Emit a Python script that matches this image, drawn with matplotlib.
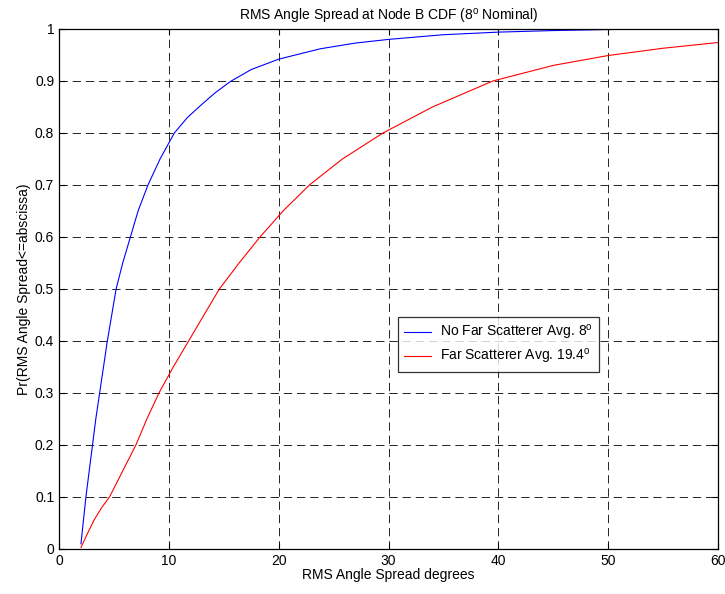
import numpy as np
import matplotlib
matplotlib.use("Agg")
import matplotlib.pyplot as plt

# values
blue_x = [2.0, 2.2, 2.45, 2.75, 3.05, 3.35, 3.7, 4.05, 4.4, 4.8, 5.2, 5.8, 6.5, 7.2, 8.1,
          9.2, 10.5, 11.7, 13.0, 14.2, 15.6, 17.5, 20.0, 23.8, 27.0, 30.0, 35.0, 40.0,
          45.0, 50.0, 56.5]
blue_y = [0.01, 0.05, 0.10, 0.15, 0.20, 0.25, 0.30, 0.35, 0.40, 0.45, 0.50, 0.55, 0.60, 0.65,
          0.70, 0.75, 0.80, 0.83, 0.855, 0.877, 0.899, 0.922, 0.942, 0.962, 0.973, 0.980,
          0.989, 0.994, 0.997, 0.999, 1.0]

red_x = [2.0, 2.6, 3.2, 3.9, 4.6, 5.8, 7.0, 8.0, 9.1, 10.4, 11.8, 13.2, 14.6, 16.4, 18.3,
         20.4, 22.8, 25.8, 29.5, 34.0, 39.5, 45.0, 50.0, 55.0, 60.0]
red_y = [0.003, 0.03, 0.056, 0.08, 0.10, 0.15, 0.20, 0.25, 0.30, 0.35, 0.40, 0.45, 0.50, 0.55,
         0.60, 0.65, 0.70, 0.75, 0.80, 0.85, 0.90, 0.93, 0.949, 0.963, 0.974]

labels = ["No Far Scatterer Avg. 8$^{\\rm o}$", "Far Scatterer Avg. 19.4$^{\\rm o}$"]
title = "RMS Angle Spread at Node B CDF (8$^{\\rm o}$ Nominal)"

plt.rcParams['font.family'] = ['Liberation Sans', 'DejaVu Sans']
plt.rcParams['mathtext.fontset'] = 'custom'
plt.rcParams['mathtext.rm'] = 'Liberation Sans'
plt.rcParams['lines.scale_dashes'] = False

fig = plt.figure(figsize=(7.25, 5.94), dpi=100)
ax = fig.add_axes([59 / 725, 45 / 594, 659 / 725, 520 / 594])

ax.plot(blue_x, blue_y, color='#0000ff', lw=0.8, label=labels[0])
ax.plot(red_x, red_y, color='#ff0000', lw=0.8, label=labels[1])

ax.set_xlim(0, 60)
ax.set_ylim(0, 1)
ax.set_xticks(np.arange(0, 61, 10))
ax.set_yticks(np.arange(0, 1.01, 0.1))
ax.set_yticklabels(['0', '0.1', '0.2', '0.3', '0.4', '0.5', '0.6', '0.7', '0.8', '0.9', '1'])
ax.grid(True, color='black', linestyle=(0, (6, 3.5)), lw=0.6)
ax.tick_params(direction='in', top=True, right=True, length=4, width=0.8, labelsize=10, pad=3.5)
for s in ax.spines.values():
    s.set_linewidth(0.9)

ax.set_title(title, fontsize=10, pad=6)
ax.set_xlabel("RMS Angle Spread degrees", fontsize=10, labelpad=0)
ax.set_ylabel("Pr(RMS Angle Spread<=abscissa)", fontsize=10, labelpad=3)

leg = ax.legend(loc='upper left', bbox_to_anchor=(0.5144, 0.446), fontsize=10,
                frameon=True, fancybox=False, handlelength=1.95, borderpad=0.45,
                labelspacing=0.35, handletextpad=0.65, borderaxespad=0)
leg.get_frame().set_edgecolor('black')
leg.get_frame().set_linewidth(0.9)

fig.savefig("out.png", dpi=100)
